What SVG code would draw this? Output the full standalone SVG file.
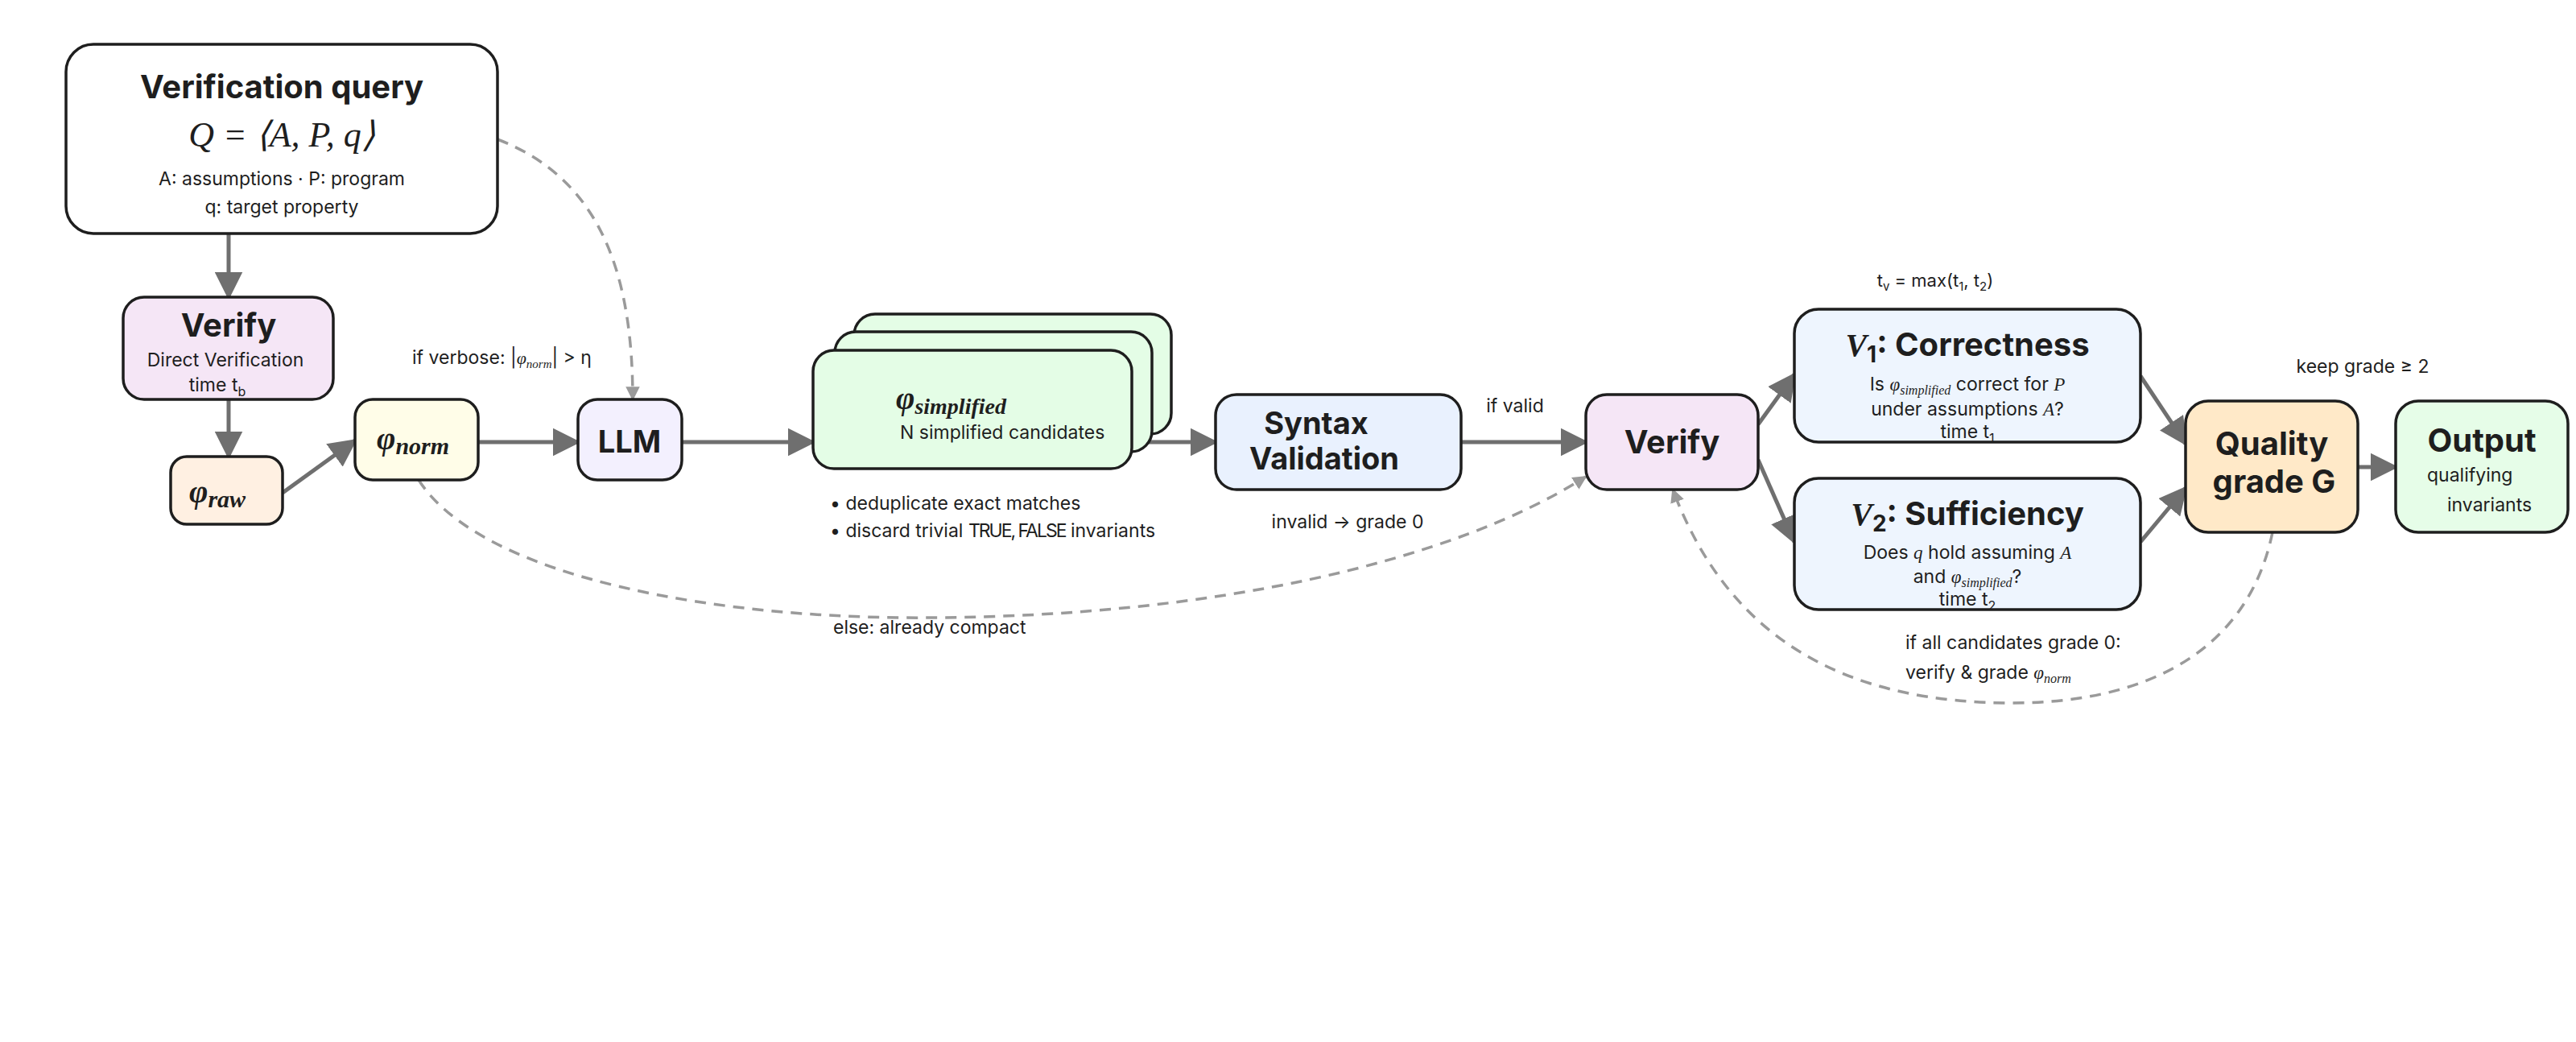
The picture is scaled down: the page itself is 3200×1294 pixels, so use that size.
<svg xmlns="http://www.w3.org/2000/svg" width="3200" height="1294" viewBox="0 0 3200 1294">
<defs>
<marker id="ah" viewBox="0 0 10 10" refX="9" refY="5" markerWidth="7" markerHeight="7" markerUnits="userSpaceOnUse" orient="auto"><path d="M0,0L10,5L0,10z" fill="#6f6f6f"/></marker>
<marker id="ah2" viewBox="0 0 10 10" refX="9" refY="5" markerWidth="5" markerHeight="5" orient="auto"><path d="M0,0L10,5L0,10z" fill="#9a9a9a"/></marker>
<style>
.n{stroke:#1e1e1e;stroke-width:3.5}
.t{font-family:Inter,"Liberation Sans",sans-serif;fill:#1e1e1e}
.b{font-weight:700}
.m{font-family:"Liberation Serif",serif;font-style:italic;fill:#1e1e1e}
.c{stroke:#6f6f6f;stroke-width:5;fill:none;marker-end:url(#a)}
.d{stroke:#9a9a9a;stroke-width:3.5;fill:none;stroke-dasharray:14 10;marker-end:url(#ah2)}
</style>
<marker id="a" viewBox="0 0 10 10" refX="9" refY="5" markerWidth="7" markerHeight="7" orient="auto"><path d="M0,0L10,5L0,10z" fill="#6f6f6f"/></marker>
</defs>
<rect width="3200" height="1294" fill="#fff"/>
<g id="connectors">
<path class="c" d="M284,290V369"/>
<path class="c" d="M284,496V567"/>
<path class="c" d="M351,612L441,547"/>
<path class="c" d="M594,549H718"/>
<path class="c" d="M847,549H1010"/>
<path class="c" d="M1406,549H1510"/>
<path class="c" d="M1815,549H1970"/>
<path class="c" d="M2184,527L2229,465"/>
<path class="c" d="M2184,571L2229,673"/>
<path class="c" d="M2659,467L2715,551"/>
<path class="c" d="M2659,673L2715,606"/>
<path class="c" d="M2929,580H2976"/>
<path class="d" d="M618,173C740,220 786,330 786,496"/>
<path class="d" d="M520,596C600,720 900,770 1160,767C1500,765 1800,700 1970,592"/>
<path class="d" d="M2823,661C2790,820 2650,873 2500,873C2300,873 2150,800 2078,608"/>
</g>
<g id="query"><rect class="n" x="82" y="55" width="536" height="235" rx="34" fill="#fff"/>
<text class="t b" x="350" y="122" font-size="40" text-anchor="middle">Verification query</text>
<text class="m" x="350" y="182" font-size="44" text-anchor="middle">Q = ⟨A, P, q⟩</text>
<text class="t" x="350" y="230" font-size="23" text-anchor="middle">A: assumptions · P: program</text>
<text class="t" x="350" y="265" font-size="23" text-anchor="middle">q: target property</text></g>
<g id="verify1"><rect class="n" x="153" y="369" width="261" height="127" rx="26" fill="#f5e6f6"/>
<text class="t b" x="284" y="418" font-size="40" text-anchor="middle">Verify</text>
<text class="t" x="280" y="455" font-size="23" text-anchor="middle">Direct Verification</text>
<text class="t" x="270" y="486" font-size="23" text-anchor="middle">time t<tspan font-size="16" dy="6">b</tspan></text></g>
<g id="raw"><rect class="n" x="212" y="567" width="139" height="84" rx="20" fill="#fff0e2"/>
<text class="m b" x="235" y="624" font-size="40">φ<tspan font-size="30" dy="6">raw</tspan></text></g>
<g id="norm"><rect class="n" x="441" y="496" width="153" height="100" rx="22" fill="#fffde8"/>
<text class="m b" x="468" y="558" font-size="40">φ<tspan font-size="30" dy="6">norm</tspan></text></g>
<g id="llm"><rect class="n" x="718" y="496" width="129" height="100" rx="24" fill="#f3f0fe"/>
<text class="t b" x="782" y="562" font-size="38" text-anchor="middle">LLM</text></g>
<text class="t" x="512" y="452" font-size="23">if verbose: |<tspan class="m" font-size="22">φ</tspan><tspan class="m" font-size="15" dy="5">norm</tspan><tspan dy="-5">| &gt; η</tspan></text>
<g id="candidates">
<rect class="n" x="1061" y="390" width="394" height="149" rx="26" fill="#e4fde6"/>
<rect class="n" x="1037" y="412" width="394" height="149" rx="26" fill="#e4fde6"/>
<rect class="n" x="1010" y="435" width="396" height="147" rx="26" fill="#e4fde6"/>
<text class="m b" x="1113" y="508" font-size="40">φ<tspan font-size="28" dy="6">simplified</tspan></text>
<text class="t" x="1118" y="545" font-size="23">N simplified candidates</text></g>
<text class="t" x="1031" y="633" font-size="23">• deduplicate exact matches</text>
<text class="t" x="1031" y="667" font-size="23">• discard trivial <tspan letter-spacing="-2">TRUE, FALSE</tspan> invariants</text>
<text class="t" x="1035" y="787" font-size="23">else: already compact</text>
<g id="syntax"><rect class="n" x="1510" y="490" width="305" height="118" rx="26" fill="#e9f1fe"/>
<text class="t b" x="1635" y="539" font-size="38" text-anchor="middle">Syntax</text>
<text class="t b" x="1645" y="583" font-size="38" text-anchor="middle">Validation</text></g>
<text class="t" x="1882" y="512" font-size="23" text-anchor="middle">if valid</text>
<text class="t" x="1674" y="656" font-size="23" text-anchor="middle">invalid → grade 0</text>
<g id="verify2"><rect class="n" x="1970" y="490" width="214" height="118" rx="26" fill="#f5e6f6"/>
<text class="t b" x="2077" y="563" font-size="40" text-anchor="middle">Verify</text></g>
<text class="t" x="2404" y="356" font-size="22" text-anchor="middle">t<tspan font-size="15" dy="5">v</tspan><tspan dy="-5"> = max(t</tspan><tspan font-size="15" dy="5">1</tspan><tspan dy="-5">, t</tspan><tspan font-size="15" dy="5">2</tspan><tspan dy="-5">)</tspan></text>
<g id="v1"><rect class="n" x="2229" y="384" width="430" height="165" rx="30" fill="#eef5fe"/>
<text class="t b" x="2444" y="442" font-size="40" text-anchor="middle"><tspan class="m">V</tspan><tspan font-size="28" dy="8">1</tspan><tspan dy="-8">: Correctness</tspan></text>
<text class="t" x="2444" y="485" font-size="23" text-anchor="middle">Is <tspan class="m">φ</tspan><tspan class="m" font-size="16" dy="5">simplified</tspan><tspan dy="-5"> correct for </tspan><tspan class="m">P</tspan></text>
<text class="t" x="2444" y="516" font-size="23" text-anchor="middle">under assumptions <tspan class="m">A</tspan>?</text>
<text class="t" x="2444" y="544" font-size="23" text-anchor="middle">time t<tspan font-size="16" dy="6">1</tspan></text></g>
<g id="v2"><rect class="n" x="2229" y="594" width="430" height="163" rx="30" fill="#eef5fe"/>
<text class="t b" x="2444" y="652" font-size="40" text-anchor="middle"><tspan class="m">V</tspan><tspan font-size="28" dy="8">2</tspan><tspan dy="-8">: Sufficiency</tspan></text>
<text class="t" x="2444" y="694" font-size="23" text-anchor="middle">Does <tspan class="m">q</tspan> hold assuming <tspan class="m">A</tspan></text>
<text class="t" x="2444" y="724" font-size="23" text-anchor="middle">and <tspan class="m">φ</tspan><tspan class="m" font-size="16" dy="5">simplified</tspan><tspan dy="-5">?</tspan></text>
<text class="t" x="2444" y="752" font-size="23" text-anchor="middle">time t<tspan font-size="16" dy="6">2</tspan></text></g>
<text class="t" x="2935" y="463" font-size="23" text-anchor="middle">keep grade ≥ 2</text>
<g id="quality"><rect class="n" x="2715" y="498" width="214" height="163" rx="28" fill="#ffe9c8"/>
<text class="t b" x="2822" y="565" font-size="40" text-anchor="middle">Quality</text>
<text class="t b" x="2825" y="612" font-size="40" text-anchor="middle">grade G</text></g>
<g id="output"><rect class="n" x="2976" y="498" width="214" height="163" rx="28" fill="#e6fde8"/>
<text class="t b" x="3083" y="561" font-size="40" text-anchor="middle">Output</text>
<text class="t" x="3015" y="598" font-size="23">qualifying</text>
<text class="t" x="3040" y="635" font-size="23">invariants</text></g>
<text class="t" x="2367" y="806" font-size="23">if all candidates grade 0:</text>
<text class="t" x="2367" y="843" font-size="23">verify &amp; grade <tspan class="m">φ</tspan><tspan class="m" font-size="16" dy="5">norm</tspan></text>
</svg>
